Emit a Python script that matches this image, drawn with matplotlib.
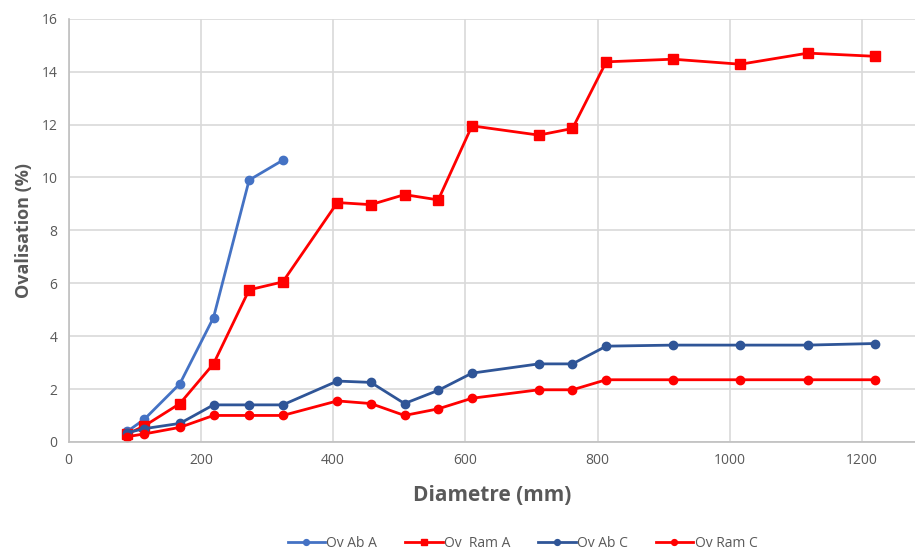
import matplotlib.pyplot as plt

# Diameters (mm) and ovalisation values (%)
diam = [88.9, 114.3, 168.3, 219.1, 273, 323.9, 406.4, 457, 508, 559,
        610, 711, 762, 813, 914, 1016, 1118, 1219]
diam_ab_a = diam[:6]

ov_ab_a = [0.4, 0.85, 2.2, 4.7, 9.9, 10.65]
ov_ram_a = [0.3, 0.6, 1.45, 2.95, 5.75, 6.05, 9.05, 8.97, 9.35, 9.15,
            11.95, 11.6, 11.85, 14.37, 14.47, 14.28, 14.7, 14.58]
ov_ab_c = [0.35, 0.5, 0.7, 1.4, 1.4, 1.4, 2.3, 2.25, 1.45, 1.95,
           2.6, 2.95, 2.95, 3.62, 3.66, 3.66, 3.66, 3.72]
ov_ram_c = [0.2, 0.3, 0.55, 1.0, 1.0, 1.0, 1.55, 1.45, 1.0, 1.25,
            1.65, 1.97, 1.97, 2.35, 2.35, 2.35, 2.35, 2.35]

plt.rcParams['font.family'] = ['Open Sans', 'DejaVu Sans']

fig = plt.figure(figsize=(9.15, 5.51), dpi=100)
ax = fig.add_axes([0.075, 0.198, 0.925, 0.768])

ax.plot(diam_ab_a, ov_ab_a, color='#4472c4', marker='o', markersize=6, lw=2, label='Ov Ab A')
ax.plot(diam, ov_ram_a, color='#ff0000', marker='s', markersize=7, lw=2, label='Ov  Ram A')
ax.plot(diam, ov_ab_c, color='#2f5597', marker='o', markersize=6, lw=2, label='Ov Ab C')
ax.plot(diam, ov_ram_c, color='#ff0000', marker='o', markersize=6, lw=2, label='Ov Ram C')

ax.set_xlim(0, 1280)
ax.set_ylim(0, 16)
ax.set_xticks(range(0, 1201, 200))
ax.set_yticks(range(0, 17, 2))
ax.grid(True, color='#d9d9d9', lw=1.2)
ax.set_axisbelow(True)
for s in ['top', 'right']:
    ax.spines[s].set_visible(False)
for s in ['left', 'bottom']:
    ax.spines[s].set_color('#bfbfbf')
    ax.spines[s].set_linewidth(1.2)
ax.tick_params(length=0, labelsize=10, labelcolor='#595959', pad=8)

ax.set_xlabel('Diametre (mm)', fontsize=15, fontweight='bold', color='#595959', labelpad=12)
ax.set_ylabel('Ovalisation (%)', fontsize=13, fontweight='bold', color='#595959', labelpad=6)

fig.legend(loc='lower center', bbox_to_anchor=(0.571, -0.022), ncol=4, frameon=False,
           fontsize=10, labelcolor='#595959', markerscale=0.7, handlelength=2.7,
           columnspacing=2.0, handletextpad=0.1)

fig.savefig('out.png', dpi=100)
